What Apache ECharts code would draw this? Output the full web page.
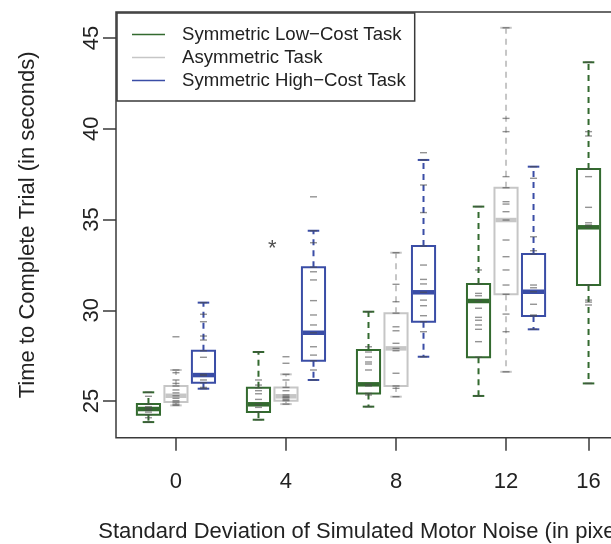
<!DOCTYPE html>
<html>
<head>
<meta charset="utf-8">
<script src="https://cdn.jsdelivr.net/npm/echarts@6/dist/echarts.min.js"></script>
<style>
html,body{margin:0;padding:0;background:#fff;}
#chart{width:611px;height:544px;}
</style>
</head>
<body>
<div id="chart"></div>
<script>
// ---------- data ----------
const noiseLevels = ['0', '4', '8', '12', '16'];
const taskNames = ['Symmetric Low\u2212Cost Task', 'Asymmetric Task', 'Symmetric High\u2212Cost Task'];

// box statistics per noise level: [lower whisker, Q1, median, Q3, upper whisker]
const lowCostStats = [
  [23.84, 24.25, 24.56, 24.83, 25.48],
  [23.97, 24.39, 24.82, 25.73, 27.70],
  [24.69, 25.42, 25.92, 27.81, 29.92],
  [25.28, 27.41, 30.51, 31.45, 35.71],
  [25.97, 31.39, 34.57, 37.78, 43.66]
];
const asymStats = [
  [24.76, 24.94, 25.29, 25.83, 26.71],
  [24.83, 25.01, 25.26, 25.75, 26.47],
  [25.24, 25.83, 27.90, 29.84, 33.17],
  [26.61, 30.88, 34.97, 36.75, 45.56],
  null
];
const highCostStats = [
  [25.68, 26.01, 26.43, 27.77, 30.42],
  [26.16, 27.22, 28.76, 32.37, 34.38],
  [27.44, 29.37, 30.99, 33.54, 38.28],
  [28.95, 29.68, 31.02, 33.10, 37.91],
  null
];

// individual trial values (drawn as short dashes)
const lowCostTrials = [
  [25.48, 25.26, 24.83, 24.69, 24.56, 24.39, 24.25, 24.08, 23.84, 24.60, 24.50],
  [27.70, 26.16, 25.88, 25.73, 25.57, 25.09, 24.82, 24.65, 24.39, 23.97, 25.40],
  [29.92, 27.99, 27.70, 27.42, 27.15, 27.04, 26.71, 25.92, 25.83, 25.33, 25.42, 24.69],
  [35.71, 32.22, 31.45, 30.93, 30.80, 30.51, 30.11, 29.61, 29.45, 29.19, 28.95, 28.27, 27.41, 25.28],
  [43.66, 39.84, 39.60, 37.78, 37.36, 35.67, 34.82, 34.70, 34.57, 31.39, 30.56, 30.45, 30.29, 25.97]
];
const asymTrials = [
  [28.54, 26.71, 26.56, 26.16, 25.97, 25.83, 25.61, 25.45, 25.29, 25.15, 25.02, 24.94, 24.83, 24.76],
  [27.44, 27.08, 26.47, 26.16, 25.75, 25.57, 25.33, 25.24, 25.18, 25.09, 25.02, 24.83],
  [33.17, 31.43, 30.47, 29.84, 29.09, 28.87, 28.18, 27.90, 27.77, 26.53, 25.83, 25.70, 25.24],
  [45.56, 40.57, 39.84, 37.36, 36.75, 35.98, 35.85, 35.43, 34.97, 33.87, 32.95, 32.22, 31.39, 30.88, 29.79, 28.82, 26.61],
  []
];
const highCostTrials = [
  [30.42, 29.78, 29.37, 28.58, 28.36, 27.77, 27.41, 26.47, 26.40, 26.16, 26.01, 25.75, 25.68],
  [36.25, 34.38, 33.72, 32.37, 32.12, 31.67, 30.53, 29.74, 29.19, 28.76, 27.99, 27.53, 27.22, 26.71, 26.16],
  [38.68, 38.28, 36.90, 35.38, 33.54, 32.49, 31.70, 31.45, 30.99, 30.56, 30.25, 29.70, 29.37, 28.82, 27.44],
  [37.91, 37.27, 34.05, 33.28, 33.10, 31.39, 31.24, 31.02, 30.33, 29.74, 29.68, 28.95],
  []
];
const yTicks = [25, 30, 35, 40, 45];
// significance marker: between low-cost and asymmetric boxes at noise 4
const starGroup = 1;
const starValue = 33.56;

// ---------- layout / style ----------
const FONT = '"Liberation Sans", Arial, Helvetica, sans-serif';
const taskColors = ['#336a2f', '#c6c6c6', '#3a4da6'];
const statsAll = [lowCostStats, asymStats, highCostStats];
const trialsAll = [lowCostTrials, asymTrials, highCostTrials];
const groupSpacing = 4;
const taskOffset = [-1, 0, 1];
const boxWidth = 0.84;

function boxPos(task, g) { return g * groupSpacing + taskOffset[task]; }

// tick at the centre of the boxes present in each group
const tickPos = noiseLevels.map((_, g) => {
  const ps = [];
  statsAll.forEach((st, t) => { if (st[g]) ps.push(boxPos(t, g)); });
  return ps.reduce((a, b) => a + b, 0) / ps.length;
});

function renderBox(params, api) {
  const x = api.value(0);
  const vMin = api.value(1), q1 = api.value(2), med = api.value(3), q3 = api.value(4), vMax = api.value(5);
  const color = taskColors[params.seriesIndex];
  const hw = api.size([boxWidth, 0])[0] / 2;
  const cw = hw / 2;
  const pMin = api.coord([x, vMin]), pQ1 = api.coord([x, q1]), pMed = api.coord([x, med]);
  const pQ3 = api.coord([x, q3]), pMax = api.coord([x, vMax]);
  const cx = pMed[0];
  const lineStyle = { stroke: color, lineWidth: 2, fill: null };
  const dashStyle = { stroke: color, lineWidth: 2, lineDash: [6, 5], fill: null };
  return {
    type: 'group',
    children: [
      { type: 'line', shape: { x1: cx, y1: pQ3[1], x2: cx, y2: pMax[1] }, style: dashStyle },
      { type: 'line', shape: { x1: cx, y1: pQ1[1], x2: cx, y2: pMin[1] }, style: dashStyle },
      { type: 'line', shape: { x1: cx - cw, y1: pMax[1], x2: cx + cw, y2: pMax[1] }, style: lineStyle },
      { type: 'line', shape: { x1: cx - cw, y1: pMin[1], x2: cx + cw, y2: pMin[1] }, style: lineStyle },
      { type: 'rect', shape: { x: cx - hw, y: pQ3[1], width: 2 * hw, height: pQ1[1] - pQ3[1] },
        style: { fill: '#fff', stroke: color, lineWidth: 2 } },
      { type: 'line', shape: { x1: cx - hw + 1, y1: pMed[1], x2: cx + hw - 1, y2: pMed[1] },
        style: { stroke: color, lineWidth: 4.5 } }
    ]
  };
}

const series = [];
statsAll.forEach((st, t) => {
  const data = [];
  st.forEach((s, g) => { if (s) data.push([boxPos(t, g)].concat(s)); });
  series.push({
    name: taskNames[t],
    type: 'custom',
    renderItem: renderBox,
    itemStyle: { color: taskColors[t] },
    encode: { x: 0, y: [1, 2, 3, 4, 5] },
    data: data,
    z: 2
  });
});
trialsAll.forEach((tr, t) => {
  const data = [];
  tr.forEach((vals, g) => vals.forEach(v => data.push([boxPos(t, g), v])));
  series.push({
    name: 'trials' + t,
    type: 'scatter',
    symbol: 'rect',
    symbolSize: [7, 1.4],
    itemStyle: { color: 'rgba(75,75,75,0.75)' },
    data: data,
    silent: true,
    z: 3
  });
});
series.push({
  name: 'star',
  type: 'scatter',
  symbolSize: 1,
  itemStyle: { color: 'rgba(0,0,0,0)' },
  data: [[starGroup * groupSpacing - 0.5, starValue]],
  label: { show: true, position: 'inside', formatter: '*', fontSize: 22, color: '#222', fontFamily: FONT, offset: [0, 3] },
  silent: true,
  z: 4
});

const chart = echarts.init(document.getElementById('chart'), null, { renderer: 'canvas' });
chart.setOption({
  animation: false,
  backgroundColor: '#fff',
  color: taskColors,
  grid: { left: 116, top: 12, width: 505, height: 425.7, containLabel: false, outerBoundsMode: 'none',
    show: true, borderColor: '#3a3a3a', borderWidth: 1.5, backgroundColor: 'rgba(0,0,0,0)' },
  legend: {
    data: taskNames.map(n => ({ name: n, icon: 'rect' })),
    orient: 'vertical', left: 117, top: 13,
    itemWidth: 33, itemHeight: 1.5, itemGap: 4,
    padding: [12, 9, 11, 15],
    borderColor: '#3a3a3a', borderWidth: 1.5, backgroundColor: '#fff',
    selectedMode: false,
    formatter: n => '{t|' + n + '}',
    textStyle: { fontFamily: FONT, fontSize: 18.6, color: '#222',
      rich: { t: { padding: [0, 0, 0, 12], fontSize: 18.6, lineHeight: 18, fontFamily: FONT, color: '#222' } } }
  },
  xAxis: {
    type: 'value', min: -2.18, max: 16.18,
    splitLine: { show: false }, axisLine: { show: false, onZero: false },
    axisTick: { show: true, length: 13, customValues: tickPos, lineStyle: { color: '#3a3a3a', width: 1.5 } },
    axisLabel: { customValues: tickPos, margin: 33, fontSize: 22, color: '#222', fontFamily: FONT,
      formatter: v => { const i = tickPos.findIndex(p => Math.abs(p - v) < 1e-6); return i >= 0 ? noiseLevels[i] : ''; } },
    name: 'Standard Deviation of Simulated Motor Noise (in pixels)',
    nameLocation: 'middle', nameGap: 83,
    nameTextStyle: { fontSize: 22, color: '#222', fontFamily: FONT }
  },
  yAxis: {
    type: 'value', min: 22.98, max: 46.43,
    splitLine: { show: false }, axisLine: { show: false, onZero: false },
    axisTick: { show: true, length: 13, customValues: yTicks, lineStyle: { color: '#3a3a3a', width: 1.5 } },
    axisLabel: { customValues: yTicks, rotate: 90, margin: 13, fontSize: 22, color: '#222', fontFamily: FONT },
    name: 'Time to Complete Trial (in seconds)',
    nameLocation: 'middle', nameGap: 77, nameRotate: 90,
    nameTextStyle: { fontSize: 22, color: '#222', fontFamily: FONT }
  },
  series: series
});
</script>
</body>
</html>
